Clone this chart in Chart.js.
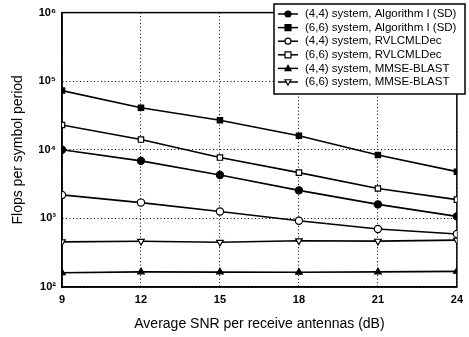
<!DOCTYPE html>
<html>
<head>
<meta charset="utf-8">
<script src="https://cdn.jsdelivr.net/npm/chart.js@4"></script>
<style>
  html, body { margin: 0; padding: 0; background: #fff; }
  #wrap { width: 469px; height: 337px; }
</style>
</head>
<body>
<div id="wrap"><canvas id="c"></canvas></div>
<script>
// ─── DATA ────────────────────────────────────────────
const snr = [9, 12, 15, 18, 21, 24];
const yTicks = [1e2, 1e3, 1e4, 1e5, 1e6];
const yTickLabels = ['10\u00B2', '10\u00B3', '10\u2074', '10\u2075', '10\u2076'];

const alg44  = [10000, 6900, 4300, 2560, 1600, 1070];
const alg66  = [73000, 41000, 27000, 16000, 8400, 4800];
const rvlc44 = [2200, 1700, 1260, 926, 700, 593];
const rvlc66 = [23000, 14100, 7700, 4650, 2730, 1880];
const mmse44 = [161, 166, 165, 164, 166, 169];
const mmse66 = [455, 465, 450, 472, 466, 482];

const labels = [
  '(4,4) system, Algorithm I (SD)',
  '(6,6) system, Algorithm I (SD)',
  '(4,4) system, RVLCMLDec',
  '(6,6) system, RVLCMLDec',
  '(4,4) system, MMSE-BLAST',
  '(6,6) system, MMSE-BLAST'
];

const FONT = "'Liberation Sans', Arial, sans-serif";

function series(label, vals, style, filled, rot) {
  return {
    label,
    data: snr.map((x, i) => ({ x, y: vals[i] })),
    borderColor: '#000',
    borderWidth: 1.6,
    backgroundColor: filled ? '#000' : '#fff',
    pointStyle: style,
    pointRotation: rot || 0,
    pointRadius: style === 'circle' ? 3.6 : 3.8,
    pointBorderWidth: 1.2,
    pointBorderColor: '#000',
    tension: 0
  };
}

const datasets = [
  series(labels[0], alg44, 'circle', true),
  series(labels[1], alg66, 'rect', true),
  series(labels[2], rvlc44, 'circle', false),
  series(labels[3], rvlc66, 'rect', false),
  series(labels[4], mmse44, 'triangle', true),
  series(labels[5], mmse66, 'triangle', false, 180)
];

function drawMarker(ctx, style, rot, x, y, r) {
  if (style === 'circle') {
    ctx.arc(x, y, r, 0, Math.PI * 2);
  } else if (style === 'rect') {
    ctx.rect(x - r, y - r, 2 * r, 2 * r);
  } else {
    const s = rot === 180 ? -1 : 1;
    ctx.moveTo(x, y - s * r);
    ctx.lineTo(x + r, y + s * r * 0.75);
    ctx.lineTo(x - r, y + s * r * 0.75);
    ctx.closePath();
  }
}

// ─── LEGEND BOX (inside plot) ────────────────────────
const boxLegend = {
  id: 'boxLegend',
  afterDraw(chart) {
    const ctx = chart.ctx;
    const x0 = 274, y0 = 4, w = 191, h = 90;
    ctx.save();
    ctx.fillStyle = '#fff';
    ctx.fillRect(x0, y0, w, h);
    ctx.strokeStyle = '#000';
    ctx.lineWidth = 1.5;
    ctx.strokeRect(x0, y0, w, h);
    ctx.font = '11.5px ' + FONT;
    ctx.textBaseline = 'middle';
    chart.data.datasets.forEach((ds, i) => {
      const cy = y0 + 10 + i * 13.6;
      ctx.beginPath();
      ctx.lineWidth = 1.5;
      ctx.strokeStyle = '#000';
      ctx.moveTo(x0 + 4, cy);
      ctx.lineTo(x0 + 24, cy);
      ctx.stroke();
      ctx.fillStyle = ds.backgroundColor;
      ctx.lineWidth = 1.2;
      ctx.beginPath();
      drawMarker(ctx, ds.pointStyle, ds.pointRotation, x0 + 14, cy, 3);
      ctx.fill();
      ctx.stroke();
      ctx.fillStyle = '#000';
      ctx.fillText(ds.label, x0 + 31, cy);
    });
    ctx.restore();
  }
};

// ─── CHART ───────────────────────────────────────────
new Chart(document.getElementById('c'), {
  type: 'line',
  data: { datasets },
  options: {
    responsive: true,
    maintainAspectRatio: false,
    animation: false,
    layout: { padding: { top: 9, right: 10, left: 6, bottom: 0 } },
    plugins: { legend: { display: false }, tooltip: { enabled: false } },
    scales: {
      x: {
        type: 'linear',
        min: 9, max: 24,
        afterBuildTicks: s => { s.ticks = snr.map(v => ({ value: v })); },
        afterFit: s => { s.height = 50; },
        grid: { color: '#000', lineWidth: 1, drawTicks: false },
        border: { color: '#000', width: 1.5, dash: [1, 2.5] },
        ticks: {
          color: '#000', padding: 6,
          font: { family: FONT, size: 11, weight: 'bold' },
          maxRotation: 0
        },
        title: {
          display: true, text: 'Average SNR per receive antennas (dB)',
          color: '#000', font: { family: FONT, size: 14 }, padding: { top: 4 }
        }
      },
      y: {
        type: 'logarithmic',
        min: 100, max: 1e6,
        afterBuildTicks: s => { s.ticks = yTicks.map(v => ({ value: v })); },
        afterFit: s => { s.width = 56; },
        grid: { color: '#000', lineWidth: 1, drawTicks: false },
        border: { color: '#000', width: 1.5, dash: [1, 2.5] },
        ticks: {
          color: '#000', padding: 6,
          font: { family: FONT, size: 11, weight: 'bold' },
          callback: v => yTickLabels[yTicks.indexOf(v)] || ''
        },
        title: {
          display: true, text: 'Flops per symbol period',
          color: '#000', font: { family: FONT, size: 14 }, padding: { bottom: 4 }
        }
      }
    }
  },
  plugins: [boxLegend, {
    id: 'frame',
    beforeDatasetsDraw(chart) {
      const { ctx, chartArea: a } = chart;
      ctx.save();
      ctx.strokeStyle = '#000';
      ctx.lineWidth = 1.5;
      ctx.setLineDash([]);
      ctx.strokeRect(a.left, a.top, a.right - a.left, a.bottom - a.top);
      ctx.restore();
    }
  }]
});
</script>
</body>
</html>
